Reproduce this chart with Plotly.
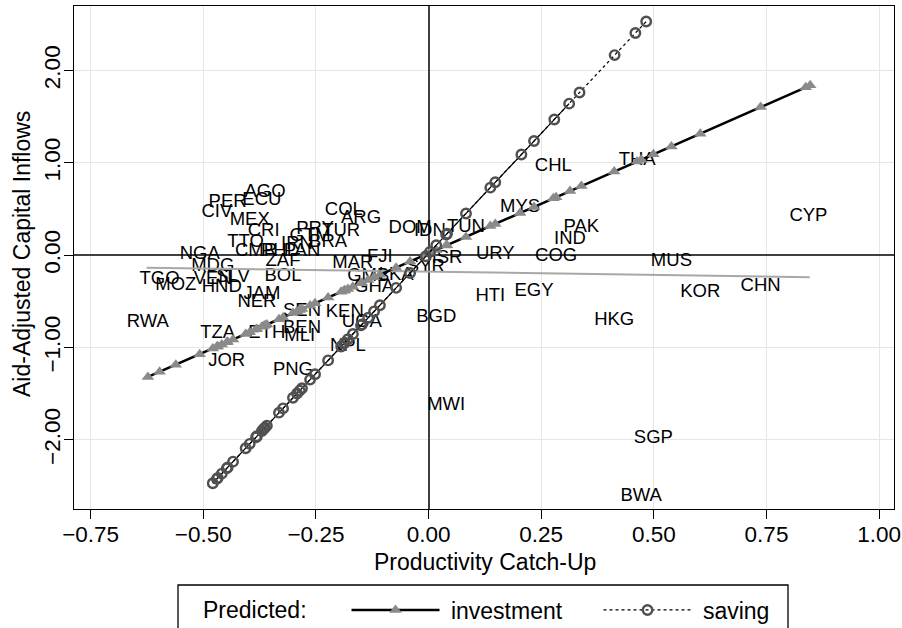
import plotly.graph_objects as go

# ---- data ----
countries = ["AGO","ECU","PER","CIV","MEX","CRI","TTO","CMR","PHL","PAN","IRN","BRA","PRY","GTM","TUR","ZAF",
             "COL","ARG","DOM","IDN","TUN","NGA","MDG","TGO","MOZ","VEN","SLV","HND","BOL","JAM","NER",
             "RWA","TZA","ETH","BEN","MLI","SEN","KEN","UGA","NPL","JOR","PNG","MAR","FJI","GMB","GHA",
             "LKA","SYR","ISR","URY","BGD","HTI","EGY","COG","IND","PAK","MYS","CHL","THA","MUS","HKG",
             "KOR","CHN","CYP","MWI","SGP","BWA"]
catch_up = [-0.363,-0.370,-0.446,-0.470,-0.397,-0.366,-0.406,-0.383,-0.332,-0.281,-0.292,-0.223,-0.252,-0.263,-0.194,-0.323,
            -0.188,-0.150,-0.041,0.003,0.083,-0.508,-0.479,-0.597,-0.561,-0.479,-0.434,-0.459,-0.323,-0.370,-0.381,
            -0.623,-0.468,-0.359,-0.281,-0.286,-0.281,-0.186,-0.148,-0.179,-0.448,-0.301,-0.168,-0.108,-0.134,-0.121,
            -0.072,-0.006,0.041,0.148,0.017,0.137,0.234,0.283,0.314,0.339,0.203,0.277,0.463,0.539,0.412,
            0.603,0.737,0.843,0.039,0.499,0.472]
inflows = [0.676,0.589,0.568,0.459,0.373,0.254,0.135,0.038,0.038,0.038,0.114,0.135,0.276,0.200,0.254,-0.070,
           0.481,0.395,0.286,0.254,0.297,0.005,-0.124,-0.265,-0.330,-0.265,-0.243,-0.351,-0.232,-0.427,-0.514,
           -0.730,-0.849,-0.849,-0.795,-0.881,-0.611,-0.622,-0.730,-0.989,-1.151,-1.249,-0.092,-0.027,-0.232,-0.351,
           -0.222,-0.135,-0.038,0.005,-0.676,-0.449,-0.395,-0.016,0.168,0.297,0.514,0.957,1.022,-0.070,-0.708,
           -0.405,-0.341,0.416,-1.627,-1.984,-2.611]

# predicted (investment)
inv_x = [-0.623,-0.597,-0.561,-0.508,-0.479,-0.470,-0.468,-0.459,-0.448,-0.446,-0.434,-0.406,-0.397,-0.383,-0.381,
         -0.370,-0.366,-0.363,-0.359,-0.332,-0.323,-0.301,-0.292,-0.286,-0.281,-0.263,-0.252,-0.223,-0.194,-0.188,
         -0.186,-0.179,-0.168,-0.150,-0.148,-0.134,-0.121,-0.108,-0.072,-0.041,-0.006,0.003,0.017,0.039,0.041,
         0.083,0.137,0.148,0.203,0.234,0.277,0.283,0.314,0.339,0.412,0.463,0.472,0.499,0.539,0.603,0.737,0.837,0.847]
inv_y = [-1.319,-1.264,-1.186,-1.072,-1.010,-0.991,-0.986,-0.967,-0.943,-0.939,-0.913,-0.853,-0.834,-0.803,-0.799,
         -0.776,-0.767,-0.760,-0.752,-0.694,-0.674,-0.627,-0.608,-0.595,-0.584,-0.545,-0.522,-0.459,-0.397,-0.384,
         -0.380,-0.365,-0.341,-0.303,-0.298,-0.268,-0.240,-0.212,-0.135,-0.068,0.007,0.026,0.057,0.104,0.108,
         0.198,0.315,0.338,0.456,0.523,0.616,0.628,0.695,0.749,0.906,1.015,1.035,1.093,1.179,1.316,1.605,1.820,1.840]

# predicted (saving)
sav_x = [-0.479,-0.470,-0.468,-0.459,-0.448,-0.446,-0.434,-0.406,-0.397,-0.383,-0.381,-0.370,-0.366,-0.363,-0.359,
         -0.332,-0.323,-0.301,-0.292,-0.286,-0.281,-0.263,-0.252,-0.223,-0.194,-0.188,-0.186,-0.179,-0.168,-0.150,
         -0.148,-0.134,-0.121,-0.108,-0.072,-0.041,-0.006,0.003,0.017,0.039,0.041,0.083,0.137,0.148,0.206,0.234,
         0.279,0.312,0.335,0.413,0.459,0.483]
sav_y = [-2.471,-2.424,-2.414,-2.367,-2.310,-2.299,-2.237,-2.091,-2.044,-1.972,-1.961,-1.904,-1.883,-1.868,-1.847,
         -1.706,-1.660,-1.545,-1.498,-1.467,-1.441,-1.348,-1.290,-1.140,-0.989,-0.958,-0.947,-0.911,-0.854,-0.760,
         -0.750,-0.677,-0.609,-0.542,-0.354,-0.193,-0.011,0.036,0.108,0.223,0.233,0.452,0.732,0.790,1.091,1.237,
         1.471,1.642,1.762,2.168,2.407,2.532]

# simple fit line (grey)
fit_x = [-0.626, 0.846]
fit_y = [-0.135, -0.238]

x_ticks = [-0.75, -0.50, -0.25, 0.00, 0.25, 0.50, 0.75, 1.00]
y_ticks = [-2.0, -1.0, 0.0, 1.0, 2.0]

FONT = "Liberation Sans, Arial, Helvetica, sans-serif"
NB = "\u00a0"

# plot-area geometry in pixels (for converting decoration positions)
L, R, T, B = 74, 894, 6, 509
def px_x(p):
    return (p - L) / (R - L)
def px_y(p):
    return (B - p) / (B - T)

fig = go.Figure()
fig.add_trace(go.Scatter(x=catch_up, y=inflows, mode="text", text=countries,
                         textposition="middle center",
                         textfont=dict(family=FONT, size=18.5, color="black"),
                         showlegend=False, hoverinfo="skip"))
fig.add_trace(go.Scatter(x=fit_x, y=fit_y, mode="lines",
                         line=dict(color="#a8a8a8", width=2), showlegend=False))
fig.add_trace(go.Scatter(x=inv_x, y=inv_y, mode="lines+markers", name=NB + "investment",
                         line=dict(color="black", width=2.5),
                         marker=dict(symbol="triangle-up", size=11, color="#8a8a8a",
                                     line=dict(width=0))))
n_solid = 48
fig.add_trace(go.Scatter(x=sav_x[:n_solid], y=sav_y[:n_solid], mode="lines",
                         line=dict(color="black", width=1.2), showlegend=False))
fig.add_trace(go.Scatter(x=sav_x, y=sav_y, mode="lines+markers", name=NB + "saving",
                         line=dict(color="black", width=1.2, dash="dot"),
                         marker=dict(symbol="circle-open", size=9.5, color="#505050",
                                     line=dict(width=2.4, color="#505050"))))

# legend frame (extends past the bottom edge, as in the reference)
fig.add_shape(type="rect", xref="paper", yref="paper",
              x0=px_x(178), x1=px_x(788), y0=px_y(660), y1=px_y(585),
              line=dict(color="black", width=1.3), fillcolor="white", layer="below")

fig.add_annotation(text="Productivity Catch-Up", xref="paper", yref="paper",
                   x=px_x(485), y=px_y(562), xanchor="center", yanchor="middle",
                   showarrow=False, font=dict(size=23, family=FONT, color="black"))
fig.add_annotation(text="Aid-Adjusted Capital Inflows", xref="paper", yref="paper",
                   x=px_x(22), y=px_y(254), xanchor="center", yanchor="middle",
                   textangle=-90, showarrow=False, font=dict(size=23, family=FONT, color="black"))

fig.update_layout(
    width=902, height=628,
    margin=dict(l=L, r=902 - R, t=T, b=628 - B, autoexpand=False),
    paper_bgcolor="white", plot_bgcolor="white",
    font=dict(family=FONT, size=22.5, color="black"),
    showlegend=True,
    legend=dict(orientation="h", xref="container", yref="container",
                x=201 / 902, xanchor="left",
                y=1 - 610 / 628, yanchor="middle",
                title=dict(text="Predicted:" + NB * 5, side="left", font=dict(size=23)),
                font=dict(size=23), bgcolor="rgba(0,0,0,0)", borderwidth=0,
                itemwidth=88, entrywidthmode="pixels", entrywidth=149),
    xaxis=dict(range=[-0.787, 1.033], tickvals=x_ticks, tickformat=".2f",
               showgrid=True, gridcolor="#e6e6e6", gridwidth=1.2,
               zeroline=True, zerolinecolor="#404040", zerolinewidth=1.6,
               showline=True, mirror=True, linecolor="black", linewidth=1.3,
               ticks="outside", ticklen=9, tickcolor="black", tickwidth=1.3,
               ticklabelstandoff=-4,
               tickfont=dict(size=22.5)),
    yaxis=dict(range=[-2.75, 2.70], tickvals=y_ticks, tickformat=".2f",
               showgrid=True, gridcolor="#e6e6e6", gridwidth=1.2,
               zeroline=True, zerolinecolor="#404040", zerolinewidth=1.6,
               showline=True, mirror=True, linecolor="black", linewidth=1.3,
               ticks="outside", ticklen=9, tickcolor="black", tickwidth=1.3,
               tickangle=-90, ticklabelstandoff=-5,
               tickfont=dict(size=22.5)),
)

fig.write_html("out.html")
